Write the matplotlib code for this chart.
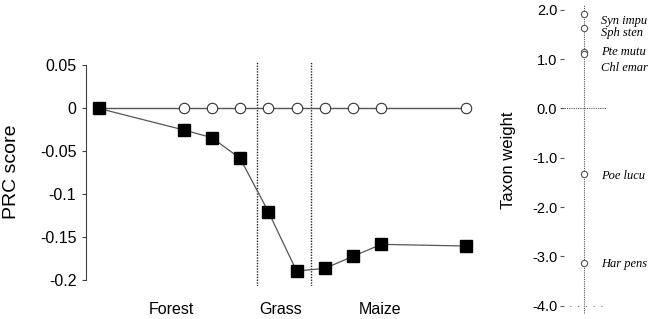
import matplotlib
matplotlib.use("Agg")
import matplotlib.pyplot as plt
import matplotlib.transforms as mtransforms

plt.rcParams['font.family'] = ['Liberation Sans', 'DejaVu Sans']

# ---- data ----
time_points = [0, 3, 4, 5, 6, 7, 8, 9, 10, 13]
prc_treatment = [0.0, -0.025, -0.034, -0.058, -0.120, -0.189, -0.186, -0.172, -0.158, -0.160]
prc_control = [0.0, 0.0, 0.0, 0.0, 0.0, 0.0, 0.0, 0.0, 0.0, 0.0]
period_boundaries = [5.6, 7.5]
periods = ['Forest', 'Grass', 'Maize']
prc_yticks = [0.05, 0, -0.05, -0.1, -0.15, -0.2]
prc_yticklabels = ['0.05', '0', '-0.05', '-0.1', '-0.15', '-0.2']

taxa = ['Syn impu', 'Sph sten', 'Pte mutu', 'Chl emar', 'Poe lucu', 'Har pens']
taxon_weights = [1.92, 1.63, 1.15, 1.11, -1.33, -3.13]
weight_ticks = [2.0, 1.0, 0.0, -1.0, -2.0, -3.0, -4.0]

# ---- layout (not data) ----
period_label_x = [2.55, 6.45, 9.95]
taxon_label_y = [1.77, 1.53, 1.15, 0.82, -1.37, -3.15]

W, H = 651, 319
fig = plt.figure(figsize=(W / 100, H / 100), dpi=100)

# ---------------- left panel ----------------
ax = fig.add_axes([86 / W, 1 - 285.6 / H, 394 / W, 223.6 / H])
ax.set_xlim(-0.46, 13.5)
ax.set_ylim(-0.206, 0.054)
for s in ['top', 'right', 'bottom']:
    ax.spines[s].set_visible(False)
ax.spines['left'].set_bounds(-0.2, 0.05)
ax.spines['left'].set_color('#444444')
ax.spines['left'].set_linewidth(0.8)
ax.set_xticks([])
ax.set_yticks(prc_yticks)
ax.set_yticklabels(prc_yticklabels)
ax.tick_params(axis='y', direction='out', length=3, width=0.8, color='#444444',
               pad=4, labelsize=11.5)

for xb in period_boundaries:
    ax.axvline(xb, color='#222222', linestyle=(0, (1, 1)), linewidth=1.0, zorder=1)

ax.plot(time_points, prc_control, color='#555555', linewidth=1.0, marker='o',
        markersize=7.5, markerfacecolor='white', markeredgecolor='#333333',
        markeredgewidth=0.8, zorder=2)
ax.plot(time_points, prc_treatment, color='#555555', linewidth=0.9, marker='s',
        markersize=8.5, markerfacecolor='black', markeredgecolor='black', zorder=3)

ax.set_ylabel('PRC score', fontsize=14)
ax.yaxis.set_label_coords(-0.1675, 0.508)

trans = mtransforms.blended_transform_factory(ax.transData, ax.transAxes)
for name, xp in zip(periods, period_label_x):
    ax.text(xp, -0.105, name, transform=trans, ha='center', va='center', fontsize=11.5)

# ---------------- right panel ----------------
ax2 = fig.add_axes([560 / W, 0, 91 / W, 1])
ax2.set_xlim(0, 1)
ax2.set_ylim(-4.27, 2.20)
for s in ['top', 'right', 'bottom', 'left']:
    ax2.spines[s].set_visible(False)
ax2.set_xticks([])
ax2.set_yticks(weight_ticks)
ax2.set_yticklabels([f'{t:.1f}' for t in weight_ticks])
ax2.tick_params(axis='y', direction='in', length=3, width=0.8, color='#555555',
                pad=2, labelsize=10.5)

xc = 24 / 91
ax2.plot([xc, xc], [-4.15, 2.1], color='#555555', linestyle=(0, (1, 1)), linewidth=0.8)
ax2.plot([0.02, 0.5], [0, 0], color='#555555', linestyle=(0, (1, 1)), linewidth=0.8)
ax2.plot([0.02, 0.52], [-4, -4], color='#777777', linestyle=(0, (1, 6)), linewidth=0.8)

ax2.plot([xc] * len(taxon_weights), taxon_weights, linestyle='none', marker='o',
         markersize=4.5, markerfacecolor='white', markeredgecolor='#555555',
         markeredgewidth=0.8)

for name, yl in zip(taxa, taxon_label_y):
    ax2.text(41 / 91, yl, name, ha='left', va='center', fontsize=9,
             family='Liberation Serif', style='italic')

ax2.set_ylabel('Taxon weight', fontsize=12)
ax2.yaxis.set_label_coords(-0.484, 0.498)

fig.savefig('out.png', dpi=100)
